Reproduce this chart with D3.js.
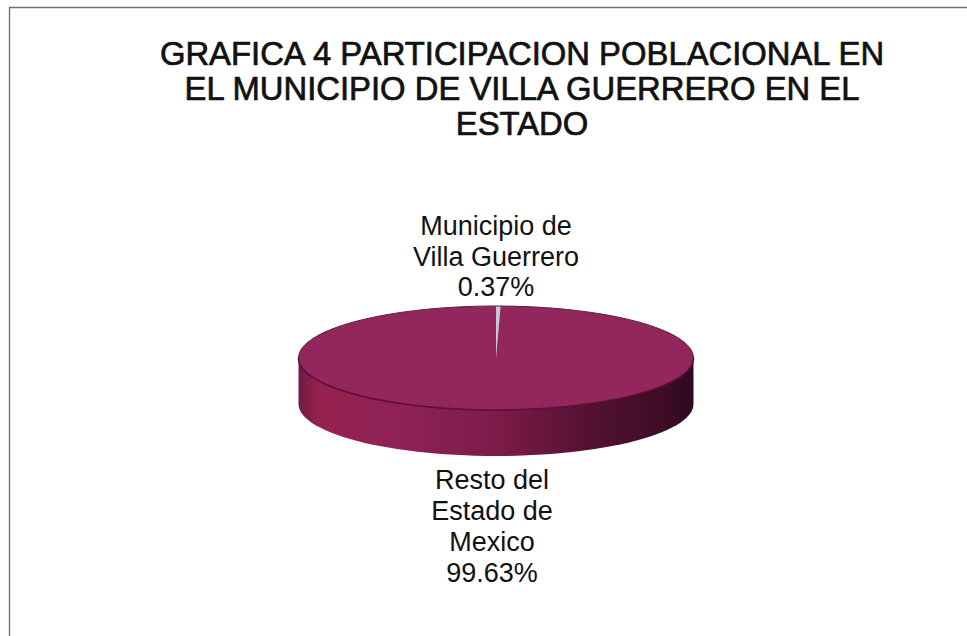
<!DOCTYPE html>
<html><head><meta charset="utf-8">
<script src="https://cdn.jsdelivr.net/npm/d3@7/dist/d3.min.js"></script>
<style>html,body{margin:0;padding:0;background:#fff}svg{display:block}text{font-family:"Liberation Sans",Arial,sans-serif;text-anchor:middle}</style>
</head><body><div id="c"></div>
<script>
const titleLines = ["GRAFICA 4 PARTICIPACION POBLACIONAL EN","EL MUNICIPIO DE VILLA GUERRERO EN EL","ESTADO"];
const categories = ["Municipio de Villa Guerrero","Resto del Estado de Mexico"];
const values = [0.37, 99.63];
const labelLines = [["Municipio de","Villa Guerrero","0.37%"],["Resto del","Estado de","Mexico","99.63%"]];
const sliceColors = ["#c4c9d8","#93265c"];

const W=967,H=636,cx=496,cy=358,rx=197.5,ry=52,depth=46;
const svg=d3.select("#c").append("svg").attr("width",W).attr("height",H);
svg.append("rect").attr("width",W).attr("height",H).attr("fill","#fff");
svg.append("path").attr("d",`M9.5,${H}V7.5H${W}`).attr("fill","none").attr("stroke","#6e6e6e").attr("stroke-width",1.3);

const defs=svg.append("defs");
const g=defs.append("linearGradient").attr("id","wall");
[[0,"#6e1a42"],[0.05,"#96224f"],[0.25,"#8f2258"],[0.5,"#7c1b49"],[0.72,"#551233"],[0.93,"#3d0c25"],[1,"#2e0a1e"]]
 .forEach(s=>g.append("stop").attr("offset",s[0]).attr("stop-color",s[1]));

// side wall
const wall=d3.path();
wall.moveTo(cx-rx,cy);
wall.lineTo(cx-rx,cy+depth);
const t=d3.scaleLinear().domain([0,60]).range([Math.PI,0]);
const pts=d3.range(61).map(i=>[cx+rx*Math.cos(t(i)),cy+depth+ry*Math.sin(t(i))]);
pts.forEach(p=>wall.lineTo(p[0],p[1]));
wall.lineTo(cx+rx,cy);
wall.closePath();
svg.append("path").attr("d",wall.toString()).attr("fill","url(#wall)");

// top face
const pie=d3.pie().sort(null).startAngle(0).endAngle(2*Math.PI);
const arc=d3.arc().innerRadius(0).outerRadius(rx);
svg.append("g").attr("transform",`translate(${cx},${cy}) scale(1,${ry/rx})`)
  .selectAll("path").data(pie(values)).join("path")
  .attr("d",arc).attr("fill",(d,i)=>sliceColors[i]);
// rim shadow along front edge of top
const rim=d3.range(61).map(i=>[cx+rx*Math.cos(t(i)),cy+ry*Math.sin(t(i))]);
svg.append("path").attr("d",d3.line()(rim)).attr("fill","none").attr("stroke","#5c0f33").attr("stroke-width",1.6);
const rimTop=d3.range(61).map(i=>[cx+rx*Math.cos(t(i)),cy-ry*Math.sin(t(i))]);
svg.append("path").attr("d",d3.line()(rimTop)).attr("fill","none").attr("stroke","#5a2040").attr("stroke-width",1);

// title
svg.append("g").selectAll("text").data(titleLines).join("text")
  .attr("x",522).attr("y",(d,i)=>65+i*35)
  .attr("font-size",32.8).attr("font-weight",400).attr("stroke","#111").attr("stroke-width",0.7).attr("fill","#111").text(d=>d);
// labels
svg.append("g").selectAll("text").data(labelLines[0]).join("text")
  .attr("x",496).attr("y",(d,i)=>235+i*30.5).attr("font-size",27).attr("fill","#111").text(d=>d);
svg.append("g").selectAll("text").data(labelLines[1]).join("text")
  .attr("x",492).attr("y",(d,i)=>489+i*31).attr("font-size",27).attr("fill","#111").text(d=>d);
</script></body></html>
